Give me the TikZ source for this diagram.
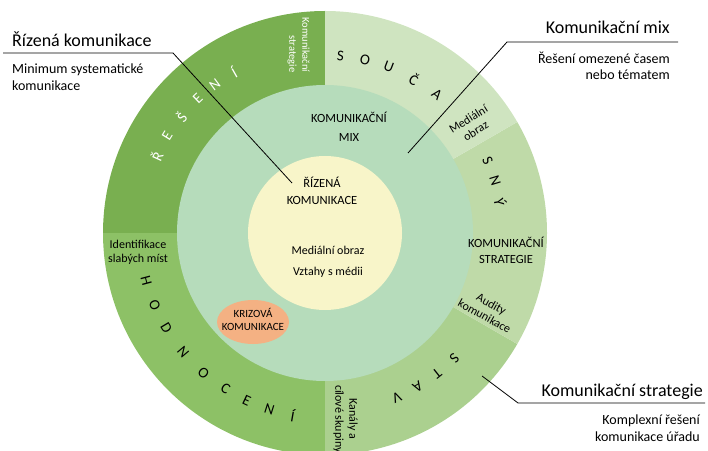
\documentclass[tikz,border=0pt]{standalone}
\usepackage{fontspec}
\setmainfont{Carlito}
\definecolor{resenigreen}{HTML}{79AF50}
\definecolor{hodngreen}{HTML}{8DC166}
\definecolor{soucgreen}{HTML}{CFE4C0}
\definecolor{stratgreen}{HTML}{BFDAA8}
\definecolor{stavgreen}{HTML}{ABD08F}
\definecolor{mixgreen}{HTML}{B6DCBB}
\definecolor{corecol}{HTML}{F8F5C9}
\definecolor{crisiscol}{HTML}{F4B183}
\tikzset{
  ringletter/.style={font=\fontsize{15}{15}\selectfont, inner sep=0pt},
  smalltext/.style={font=\fontsize{12}{14}\selectfont, align=center, inner sep=0pt},
  captext/.style={font=\fontsize{12.5}{17}\selectfont, align=center, inner sep=0pt},
  calltitle/.style={font=\fontsize{18}{20}\selectfont, inner sep=0pt},
  callbody/.style={font=\fontsize{14}{16.5}\selectfont, inner sep=0pt},
  callline/.style={line width=0.8pt}
}
\begin{document}
\begin{tikzpicture}[x=1pt,y=1pt]
\useasboundingbox (0,0) rectangle (708,450);
\clip (0,0) rectangle (708,450);
\coordinate (c) at (325,217);
% outer ring
\fill[resenigreen] (c) -- ++(90:222pt) arc[start angle=90,end angle=180,radius=222pt] -- cycle;
\fill[hodngreen] (c) -- ++(180:222pt) arc[start angle=180,end angle=270,radius=222pt] -- cycle;
\fill[stavgreen] (c) -- ++(-90:222pt) arc[start angle=-90,end angle=-30,radius=222pt] -- cycle;
\fill[stratgreen] (c) -- ++(-30:222pt) arc[start angle=-30,end angle=30,radius=222pt] -- cycle;
\fill[soucgreen] (c) -- ++(30:222pt) arc[start angle=30,end angle=90,radius=222pt] -- cycle;
% inner circles
\fill[mixgreen] (c) circle (148pt);
\fill[corecol] (c) circle (77pt);
\fill[crisiscol] (253,128) ellipse (36pt and 22pt);

% letters on the ring
\foreach \ch/\a [count=\i] in {Ř/155.5,E/148.5,Š/141,E/133.5,N/126.5,Í/119.5}
  \node[ringletter, white, rotate=\a-90] (res\i) at ([shift={(\a:185pt)}]c) {\ch};
\foreach \ch/\a [count=\i] in {S/85,O/77,U/69,Č/60,A/51,S/24,N/17,Ý/10}
  \node[ringletter, rotate=\a-90] (souc\i) at ([shift={(\a:178pt)}]c) {\ch};
\foreach \ch/\a [count=\i] in {S/-44,T/-51.5,A/-59,V/-66.5}
  \node[ringletter, rotate=\a-90] (stav\i) at ([shift={(\a:180pt)}]c) {\ch};
\foreach \ch/\a [count=\i] in {H/195,O/203,D/211,N/220,O/229,C/237.5,E/245,N/252.5,Í/260}
  \node[ringletter, rotate=\a+90] (hodn\i) at ([shift={(\a:185pt)}]c) {\ch};

% texts in the ring
\node[smalltext, white, rotate=-90, align=right, font=\fontsize{10.5}{13}\selectfont] (strat) at (298.5,405) {Komunikační\\strategie};
\node[smalltext, rotate=32] (medobr) at (472,325) {Mediální\\obraz};
\node[smalltext, rotate=-29] (audity) at (488,140) {Audity\\komunikace};
\node[smalltext] (ident) at (138,198) {Identifikace\\slabých míst};
\node[smalltext, rotate=-90] (kanaly) at (345.5,31) {Kanály a\\cílové skupiny};

% texts inside
\node[captext, font=\fontsize{12.5}{19}\selectfont] (mix) at (349,323) {KOMUNIKAČNÍ\\MIX};
\node[captext] (rizena) at (322,259) {ŘÍZENÁ\\KOMUNIKACE};
\node[smalltext] (medinner) at (328,200) {Mediální obraz};
\node[smalltext] (vztahy) at (328,178) {Vztahy s médii};
\node[captext, font=\fontsize{12.5}{16}\selectfont] (kstrat) at (506,200) {KOMUNIKAČNÍ\\STRATEGIE};
\node[captext, font=\fontsize{11}{13}\selectfont] (krize) at (253,131) {KRIZOVÁ\\KOMUNIKACE};

% callouts
\node[calltitle, anchor=base west] (rtitle) at (12,403) {Řízená komunikace};
\node[callbody, anchor=west, align=left] (rbody) at (12,373) {Minimum systematické\\komunikace};
\coordinate (r1) at (3,397);
\coordinate (r2) at (173,397);
\coordinate (r3) at (292,267);
\draw[callline] (r1) -- (r2) -- (r3);

\node[calltitle, anchor=base east] (mtitle) at (670,416) {Komunikační mix};
\node[callbody, anchor=east, align=right] (mbody) at (670,384) {Řešení omezené časem\\nebo tématem};
\coordinate (m1) at (678,408);
\coordinate (m2) at (507,408);
\coordinate (m3) at (408,297);
\draw[callline] (m1) -- (m2) -- (m3);

\node[calltitle, anchor=base east] (stitle) at (703,54) {Komunikační strategie};
\node[callbody, anchor=east, align=right] (sbody) at (700,22) {Komplexní řešení\\komunikace úřadu};
\coordinate (s1) at (705,47);
\coordinate (s2) at (518,47);
\coordinate (s3) at (482,74);
\draw[callline] (s1) -- (s2) -- (s3);
\end{tikzpicture}
\end{document}
